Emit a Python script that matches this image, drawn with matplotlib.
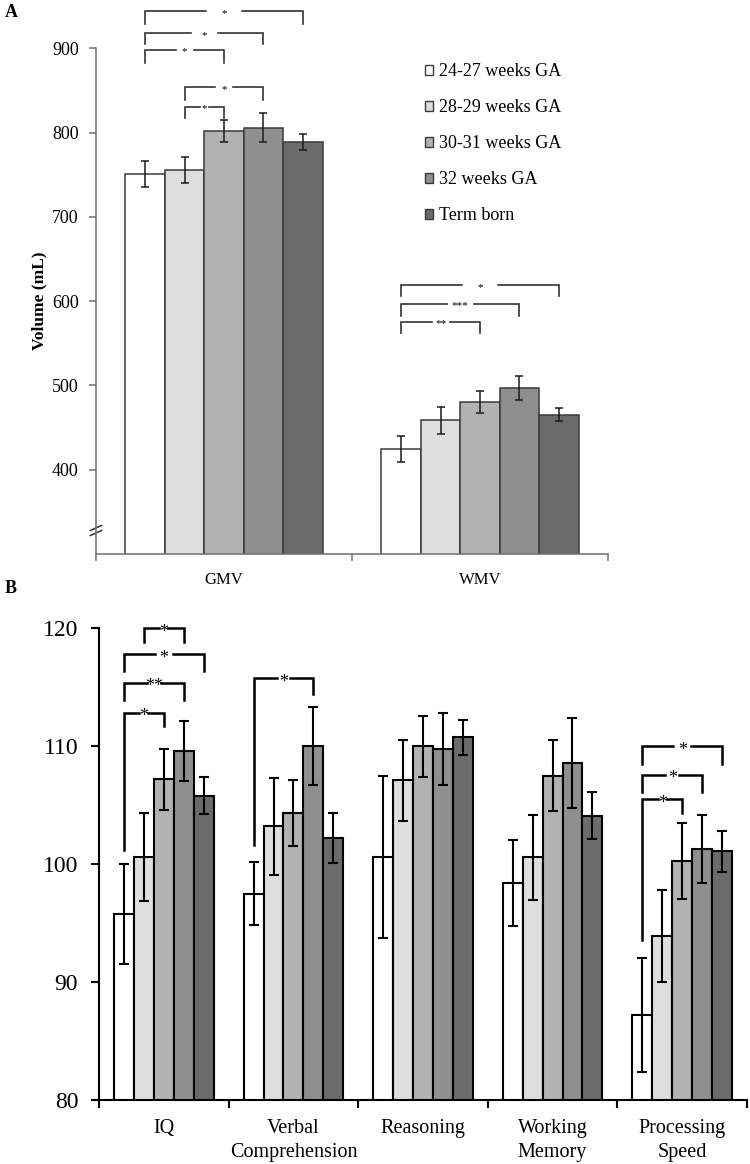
import numpy as np
import matplotlib
matplotlib.use('Agg')
import matplotlib.pyplot as plt
from matplotlib.patches import Patch

plt.rcParams['font.family'] = ['Liberation Serif', 'DejaVu Serif']

# groups and colours
groups = ['24-27 weeks GA', '28-29 weeks GA', '30-31 weeks GA', '32 weeks GA', 'Term born']
colors = ['#ffffff', '#dedede', '#b2b2b2', '#8f8f8f', '#6b6b6b']

# Panel A: brain volumes (mL)
vol_cats = ['GMV', 'WMV']
vol_mean = [[751, 424.5], [756, 459], [802, 480.5], [806, 497], [788.5, 465.5]]
vol_err = [[15.5, 15], [15.5, 16], [13.5, 13], [17, 14], [9.5, 8]]

# Panel A significance brackets: category, from bar, to bar, top, left leg end, right leg end, label
a_cat = [0, 0, 0, 0, 0, 1, 1, 1]
a_from = [0, 0, 0, 1, 1, 0, 0, 0]
a_to = [4, 3, 2, 3, 2, 4, 3, 2]
a_top = [944, 918, 898, 853.7, 830.7, 619, 597, 575.7]
a_left = [928.8, 905, 882, 838.7, 817, 606, 583, 562]
a_right = [928.8, 905, 882, 838.7, 817, 606, 583, 562]
a_label = ['*', '*', '*', '*', '*', '*', '***', '**']

# Panel B: cognitive scores
cog_cats = ['IQ', 'Verbal\nComprehension', 'Reasoning', 'Working\nMemory', 'Processing\nSpeed']
cog_mean = [[95.75, 97.5, 100.6, 98.4, 87.2],
            [100.6, 103.2, 107.1, 100.6, 93.9],
            [107.2, 104.3, 110.0, 107.5, 100.25],
            [109.6, 110.0, 109.75, 108.6, 101.3],
            [105.8, 102.2, 110.75, 104.1, 101.1]]
cog_err = [[4.25, 2.65, 6.85, 3.65, 4.8],
           [3.75, 4.1, 3.4, 3.6, 3.9],
           [2.6, 2.8, 2.6, 3.0, 3.2],
           [2.55, 3.3, 3.05, 3.8, 2.9],
           [1.55, 2.1, 1.5, 2.0, 1.75]]

# Panel B significance brackets
b_cat = [0, 0, 0, 0, 1, 4, 4, 4]
b_from = [1, 0, 0, 0, 0, 0, 0, 0]
b_to = [3, 4, 3, 2, 3, 4, 3, 2]
b_top = [120.0, 117.8, 115.4, 112.85, 115.8, 110.0, 107.6, 105.5]
b_left = [118.85, 116.36, 113.9, 101.2, 101.6, 108.5, 106.1, 93.6]
b_right = [118.85, 116.36, 113.9, 111.7, 114.4, 108.5, 106.1, 104.3]
b_label = ['*', '*', '**', '*', '*', '*', '*', '*']


def bracket(ax, x1, x2, ytop, yl, yr, label, lw, color, fs, dy):
    mid = (x1 + x2) / 2
    gap = (x2 - x1) * 0.115
    ax.plot([x1, x1, mid - gap], [yl, ytop, ytop], color=color, lw=lw, clip_on=False,
            solid_joinstyle='miter')
    ax.plot([mid + gap, x2, x2], [ytop, ytop, yr], color=color, lw=lw, clip_on=False,
            solid_joinstyle='miter')
    ax.annotate(label, (mid, ytop), xytext=(0, dy), textcoords='offset points',
                ha='center', va='center', fontsize=fs, annotation_clip=False)


fig = plt.figure(figsize=(7.5, 11.64), dpi=100)

# ---------- Panel A ----------
axA = fig.add_axes([0.128, 0.524, 0.6827, 0.4345])
wA = 0.154
xA = np.arange(len(vol_cats))
for i in range(5):
    axA.bar(xA + (i - 2) * wA, vol_mean[i], wA, color=colors[i], edgecolor='#3a3a3a',
            linewidth=1.1, zorder=2)
    axA.errorbar(xA + (i - 2) * wA, vol_mean[i], yerr=vol_err[i], fmt='none',
                 ecolor='#1a1a1a', elinewidth=1.1, capsize=3, capthick=1.1, zorder=3)

axA.set_xlim(-0.5, 1.5)
axA.set_ylim(300, 900)
axA.set_yticks([400, 500, 600, 700, 800, 900])
axA.set_xticks(xA)
axA.set_xticklabels(vol_cats, fontsize=12)
axA.set_xticks([-0.5, 0.5, 1.5], minor=True)
axA.tick_params(axis='x', which='major', length=0, pad=13)
axA.tick_params(axis='x', which='minor', length=5, width=1.1, color='#6f6f6f', direction='out')
axA.tick_params(axis='y', length=5, width=1.1, color='#6f6f6f', labelsize=13, pad=7.5)
for s in ['top', 'right']:
    axA.spines[s].set_visible(False)
for s in ['left', 'bottom']:
    axA.spines[s].set_color('#6f6f6f')
    axA.spines[s].set_linewidth(1.1)
axA.set_ylabel('Volume (mL)', fontsize=12.5, fontweight='bold')
axA.yaxis.set_label_coords(-0.095, 0.5)

# axis break marks
brk = axA.get_yaxis_transform()
for yb in [325, 331]:
    axA.plot([-0.011, 0.011], [yb - 3, yb + 3], color='#333333', lw=1.1,
             transform=brk, clip_on=False)

for k in range(len(a_label)):
    x1 = a_cat[k] + (a_from[k] - 2) * wA
    x2 = a_cat[k] + (a_to[k] - 2) * wA
    bracket(axA, x1, x2, a_top[k], a_left[k], a_right[k], a_label[k],
            lw=1.2, color='#333333', fs=8, dy=-1.5)

handles = [Patch(facecolor=colors[i], edgecolor='#3a3a3a', linewidth=1.0) for i in range(5)]
fig.legend(handles, groups, loc='upper left', bbox_to_anchor=(0.5667, 0.9455),
           frameon=False, fontsize=13, handlelength=0.45, handleheight=0.45,
           handletextpad=0.3, labelspacing=1.05, borderpad=0, borderaxespad=0)

# ---------- Panel B ----------
axB = fig.add_axes([0.132, 0.055, 0.864, 0.4052])
wB = 0.1535
xB = np.arange(len(cog_cats))
for i in range(5):
    axB.bar(xB + (i - 2) * wB, cog_mean[i], wB, color=colors[i], edgecolor='black',
            linewidth=1.5, zorder=2)
    axB.errorbar(xB + (i - 2) * wB, cog_mean[i], yerr=cog_err[i], fmt='none',
                 ecolor='black', elinewidth=1.5, capsize=3.8, capthick=1.5, zorder=3)

axB.set_xlim(-0.5, 4.5)
axB.set_ylim(80, 120)
axB.set_yticks([80, 90, 100, 110, 120])
axB.set_xticks(xB)
axB.set_xticklabels(cog_cats, fontsize=14.5, linespacing=1.35)
axB.set_xticks(np.arange(-0.5, 5, 1), minor=True)
axB.tick_params(axis='x', which='major', length=0, pad=14)
axB.tick_params(axis='x', which='minor', length=6, width=1.5, direction='out')
axB.tick_params(axis='y', length=6, width=1.5, labelsize=17, pad=9)
for s in ['top', 'right']:
    axB.spines[s].set_visible(False)
for s in ['left', 'bottom']:
    axB.spines[s].set_linewidth(1.5)

for k in range(len(b_label)):
    x1 = b_cat[k] + (b_from[k] - 2) * wB
    x2 = b_cat[k] + (b_to[k] - 2) * wB
    bracket(axB, x1, x2, b_top[k], b_left[k], b_right[k], b_label[k],
            lw=1.8, color='black', fs=13, dy=-3)

fig.text(0.006, 0.989, 'A', fontsize=13, fontweight='bold', ha='left', va='center')
fig.text(0.006, 0.4948, 'B', fontsize=13, fontweight='bold', ha='left', va='center')

fig.savefig('out.png', dpi=100)
